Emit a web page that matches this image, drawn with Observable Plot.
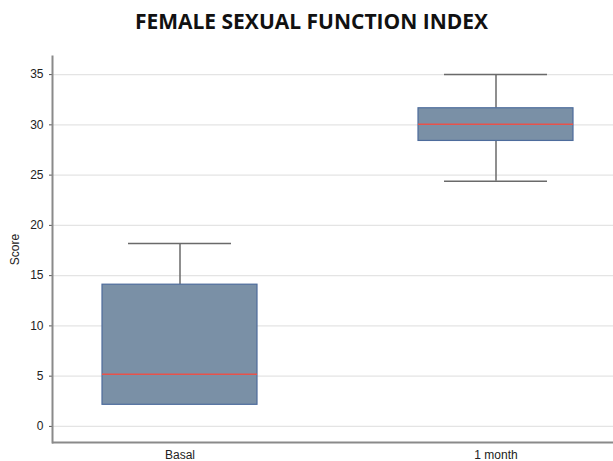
<!DOCTYPE html>
<html>
<head>
<meta charset="utf-8">
<script src="https://cdn.jsdelivr.net/npm/d3@7"></script>
<script src="https://cdn.jsdelivr.net/npm/@observablehq/plot@0.6"></script>
<style>
  html, body { margin: 0; padding: 0; background: #fff; }
  #title {
    height: 45px; width: 613px; box-sizing: border-box;
    padding-top: 7px; padding-left: 10px; text-align: center;
    font-family: "Open Sans", "DejaVu Sans", sans-serif; font-weight: 700;
    font-size: 21px; line-height: 28px; color: #111; letter-spacing: 0px;
  }
  #chart svg { display: block; }
</style>
</head>
<body>
<div id="title">FEMALE SEXUAL FUNCTION INDEX</div>
<div id="chart"></div>
<script>
const groups  = ["Basal", "1 month"];
const mins    = [2.15, 24.4];
const q1s     = [2.15, 28.4];
const medians = [5.2, 30.05];
const q3s     = [14.1, 31.65];
const maxs    = [18.2, 35.0];
const yTicks  = [0, 5, 10, 15, 20, 25, 30, 35];
const yLabel  = "Score";

const rows = groups.map((g, i) => ({
  group: g, min: mins[i], q1: q1s[i], median: medians[i], q3: q3s[i], max: maxs[i]
}));
const lower = rows.filter(d => d.min < d.q1);
const yDomain = [-1.6, 36.8];

const chart = Plot.plot({
  width: 613,
  height: 416,
  marginLeft: 52,
  marginRight: 0,
  marginTop: 11,
  marginBottom: 19,
  style: { fontFamily: "'Liberation Sans', Arial, sans-serif", fontSize: "12px", color: "#222" },
  x: { domain: groups, paddingInner: 0.508, paddingOuter: 0.139, align: 0.557 },
  y: { domain: yDomain },
  marks: [
    Plot.ruleY(yTicks, { stroke: "#e4e4e4", strokeWidth: 1.2 }),
    Plot.ruleX(rows, { x: "group", y1: "q3", y2: "max", stroke: "#6a6a6a", strokeWidth: 1.5 }),
    Plot.ruleX(lower, { x: "group", y1: "min", y2: "q1", stroke: "#6a6a6a", strokeWidth: 1.5 }),
    Plot.tickY(rows, { x: "group", y: "max", stroke: "#6a6a6a", strokeWidth: 1.5, insetLeft: 26, insetRight: 26 }),
    Plot.tickY(lower, { x: "group", y: "min", stroke: "#6a6a6a", strokeWidth: 1.5, insetLeft: 26, insetRight: 26 }),
    Plot.barY(rows, { x: "group", y1: "q1", y2: "q3", fill: "#7a90a6", stroke: "#4d6c9c", strokeWidth: 1.2 }),
    Plot.tickY(rows, { x: "group", y: "median", stroke: "#e8524a", strokeWidth: 1.5 }),
    Plot.axisY({ ticks: yTicks, tickSize: 3, tickPadding: 6, stroke: "#555",
      label: yLabel, labelAnchor: "center", labelArrow: "none", labelOffset: 42, fill: "#222" }),
    Plot.axisX({ tickSize: 0, tickPadding: 8, label: null, fill: "#222" }),
    Plot.ruleY([yDomain[0]], { stroke: "#8a8a8a", strokeWidth: 2 }),
    Plot.frame({ anchor: "left", stroke: "#8a8a8a", strokeWidth: 2 })
  ]
});
document.getElementById("chart").appendChild(chart);
</script>
</body>
</html>
